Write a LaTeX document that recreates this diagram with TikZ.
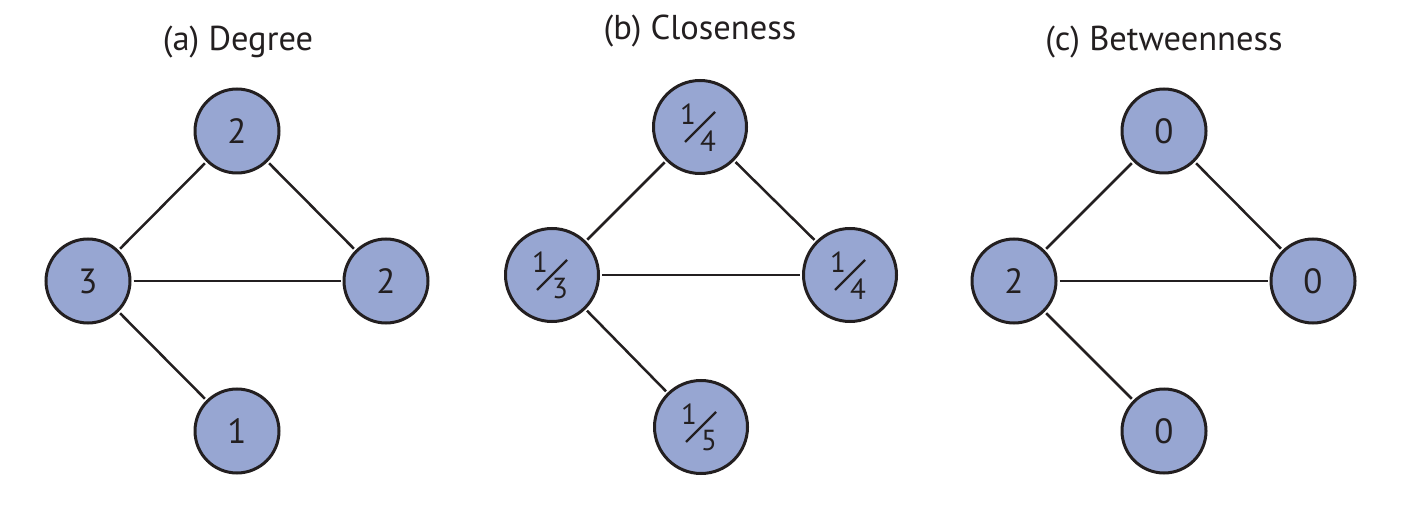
\documentclass[tikz,border=0pt]{standalone}
\usepackage{fontspec}
\setmainfont{PT Sans}
\definecolor{nodefill}{RGB}{151,166,210}
\definecolor{ink}{RGB}{35,31,32}
\tikzset{
  vtx/.style={circle, draw=ink, line width=3pt, fill=nodefill, minimum size=84pt,
    inner sep=0pt, text=ink, font=\fontsize{35}{40}\selectfont},
  bigvtx/.style={vtx, minimum size=93pt},
  edge/.style={draw=ink, line width=2.5pt, shorten <=2pt, shorten >=2pt},
  title/.style={text=ink, font=\fontsize{34.5}{40}\selectfont, inner sep=0pt},
  fracdigit/.style={text=ink, font=\fontsize{29}{32}\selectfont, inner sep=0pt},
  fracv/.style 2 args={path picture={
    \node[fracdigit] at ([shift={(-12pt,13pt)}]path picture bounding box.center) {#1};
    \node[fracdigit] at ([shift={(8pt,-14pt)}]path picture bounding box.center) {#2};
    \draw[ink, line width=2.2pt]
      ([shift={(-15pt,-15pt)}]path picture bounding box.center) --
      ([shift={(15pt,15pt)}]path picture bounding box.center);
  }}
}
\begin{document}
\begin{tikzpicture}[x=1pt,y=-1pt]
\useasboundingbox (0,0) rectangle (1404,510);
% (a) Degree
\node[title] (ta) at (238,42) {(a) Degree};
\node[vtx] (a1) at (237,131) {2};
\node[vtx] (a2) at (88,281) {3};
\node[vtx] (a3) at (386,281) {2};
\node[vtx] (a4) at (237,431) {1};
\draw[edge] (a2) -- (a1);
\draw[edge] (a1) -- (a3);
\draw[edge] (a2) -- (a3);
\draw[edge] (a2) -- (a4);
% (b) Closeness
\node[title] (tb) at (700,31) {(b) Closeness};
\node[bigvtx, fracv={1}{4}] (b1) at (700,127) {};
\node[bigvtx, fracv={1}{3}] (b2) at (552,275) {};
\node[bigvtx, fracv={1}{4}] (b3) at (850,275) {};
\node[bigvtx, fracv={1}{5}] (b4) at (701,427) {};
\draw[edge] (b2) -- (b1);
\draw[edge] (b1) -- (b3);
\draw[edge] (b2) -- (b3);
\draw[edge] (b2) -- (b4);
% (c) Betweenness
\node[title] (tc) at (1164,42) {(c) Betweenness};
\node[vtx] (c1) at (1164,131) {0};
\node[vtx] (c2) at (1014,281) {2};
\node[vtx] (c3) at (1313,281) {0};
\node[vtx] (c4) at (1164,431) {0};
\draw[edge] (c2) -- (c1);
\draw[edge] (c1) -- (c3);
\draw[edge] (c2) -- (c3);
\draw[edge] (c2) -- (c4);
\end{tikzpicture}
\end{document}
